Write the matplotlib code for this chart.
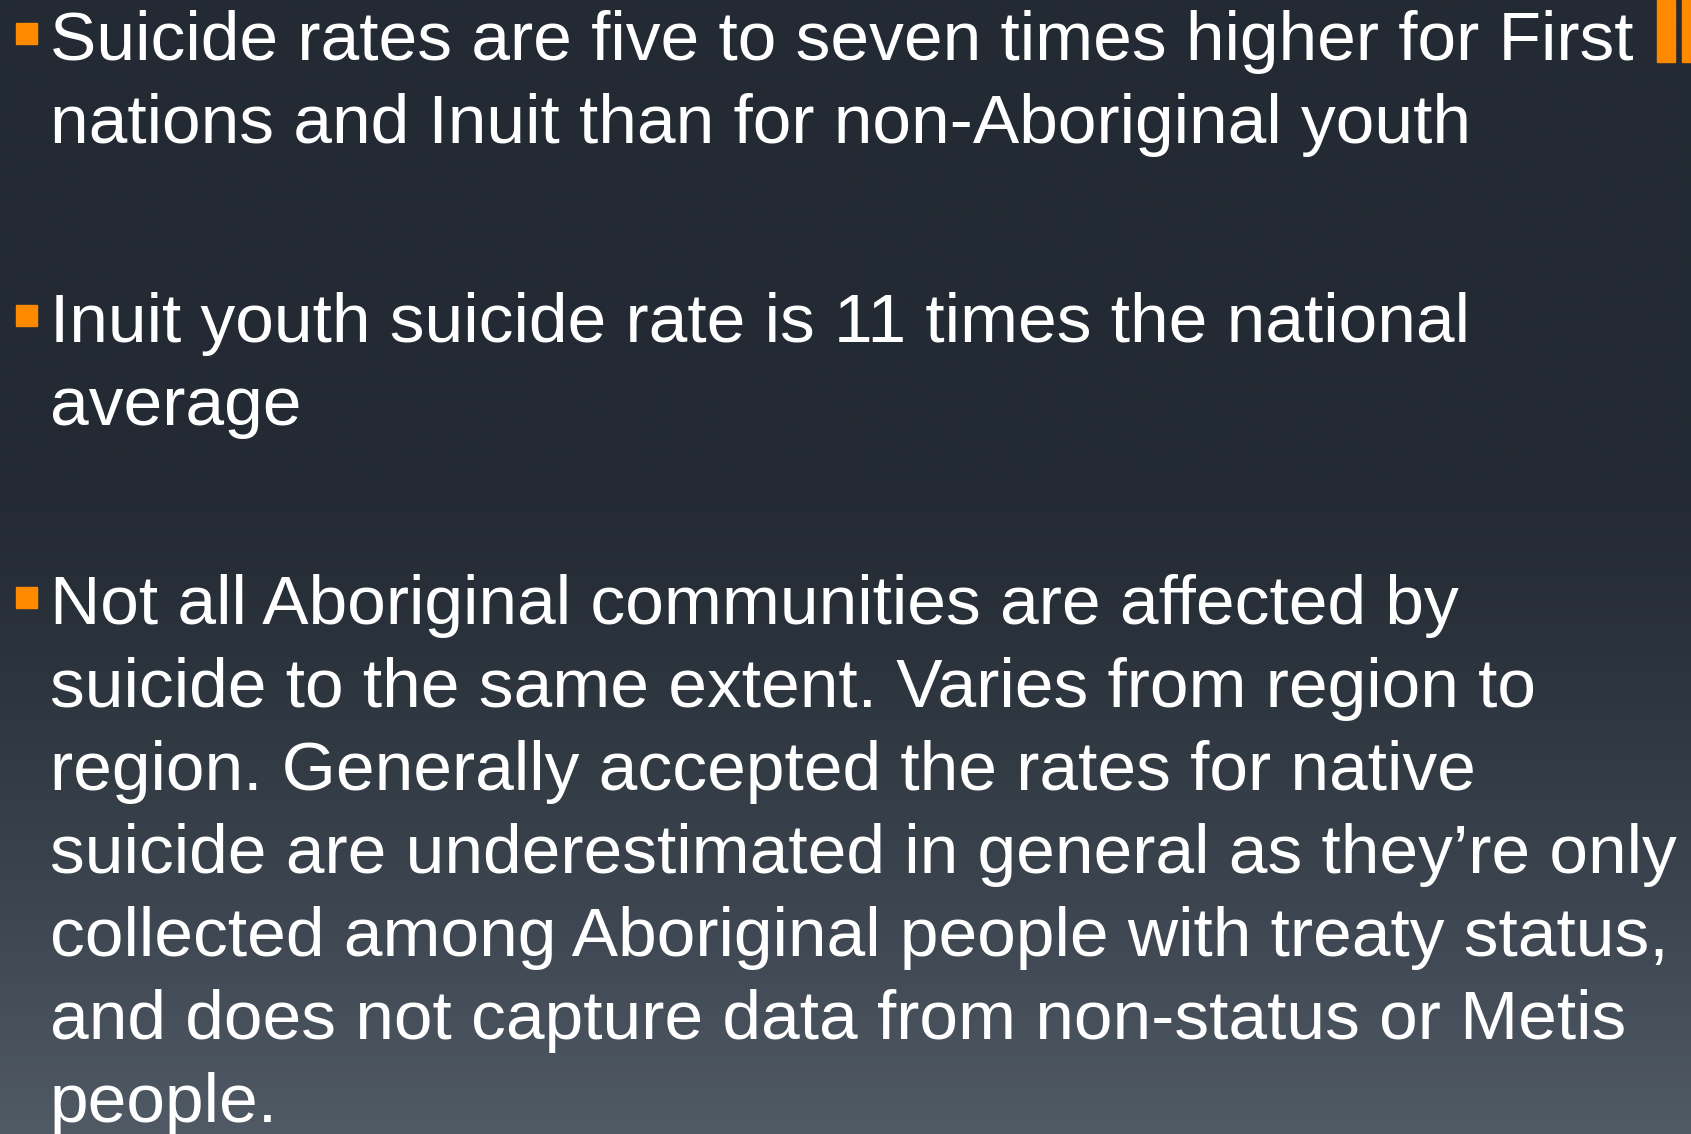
#!/usr/bin/env python3
"""Slide: Aboriginal youth suicide rates (bullet text slide)."""

import matplotlib
matplotlib.use('Agg')
import matplotlib.pyplot as plt
import numpy as np

# ── Colors ────────────────────────────────────────────────────────────────────
BG_TOP = np.array([0x23, 0x2a, 0x33]) / 255
BG_BOT = np.array([0x50, 0x5a, 0x65]) / 255
ORANGE = "#ff8a00"
WHITE  = "#ffffff"

# ── Content ───────────────────────────────────────────────────────────────────
bullet_1 = ["Suicide rates are five to seven times higher for First",
            "nations and Inuit than for non-Aboriginal youth"]
bullet_2 = ["Inuit youth suicide rate is 11 times the national",
            "average"]
bullet_3 = ["Not all Aboriginal communities are affected by",
            "suicide to the same extent. Varies from region to",
            "region. Generally accepted the rates for native",
            "suicide are underestimated in general as they\u2019re only",
            "collected among Aboriginal people with treaty status,",
            "and does not capture data from non-status or Metis",
            "people."]
bullets = [bullet_1, bullet_2, bullet_3]
first_baselines = [60, 342, 624]

W, H = 1691, 1134
fig = plt.figure(figsize=(W / 100, H / 100), dpi=100)
ax = fig.add_axes([0, 0, 1, 1])
ax.set_xlim(0, W)
ax.set_ylim(H, 0)
ax.axis("off")

# Background: flat top, gradient towards the bottom
y = np.linspace(0, 1, 400)
t = np.clip((y - 0.42) / 0.58, 0, 1) ** 1.3
grad = BG_TOP[None, :] * (1 - t[:, None]) + BG_BOT[None, :] * t[:, None]
ax.imshow(grad[:, None, :], extent=[0, W, H, 0], aspect="auto", zorder=0)

# Orange accent bars, top right
ax.add_patch(plt.Rectangle((1657, 0), 18, 62, color=ORANGE, zorder=2))
ax.add_patch(plt.Rectangle((1682, 0), 12, 62, color=ORANGE, zorder=2))

LINE = 83
for lines, base in zip(bullets, first_baselines):
    ax.add_patch(plt.Rectangle((16, base - 37), 21, 21, color=ORANGE, zorder=3))
    for i, line in enumerate(lines):
        ax.text(50, base + i * LINE, line, ha="left", va="baseline",
                fontsize=50, color=WHITE, family="Liberation Sans", zorder=4)

fig.savefig("out.png", dpi=100, facecolor=BG_TOP)
